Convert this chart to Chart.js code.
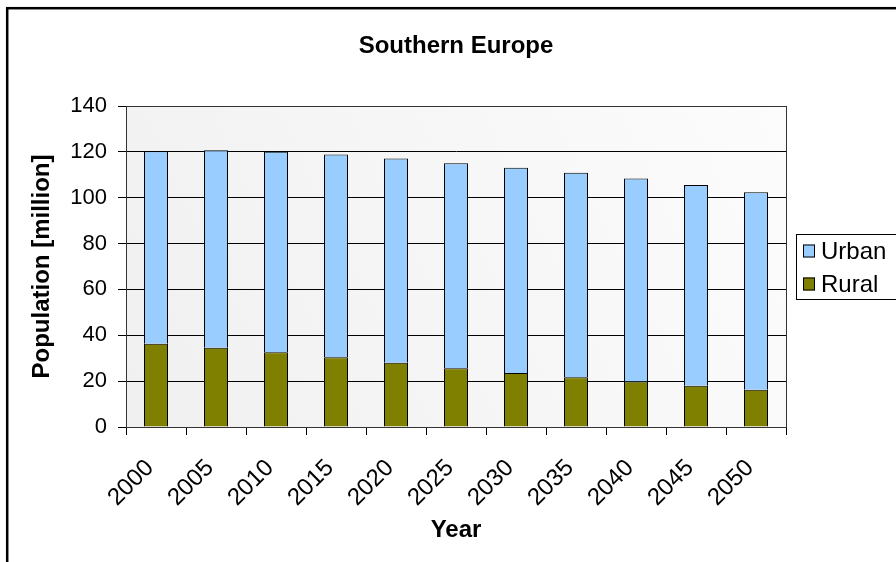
<!DOCTYPE html>
<html>
<head>
<meta charset="utf-8">
<script src="https://cdn.jsdelivr.net/npm/chart.js@4"></script>
<style>
  html, body { margin: 0; padding: 0; background: #fff; }
  #wrap { width: 896px; height: 562px; }
</style>
</head>
<body>
<div id="wrap"><canvas id="myChart" width="896" height="562"></canvas></div>
<script>
const years = ["2000", "2005", "2010", "2015", "2020", "2025", "2030", "2035", "2040", "2045", "2050"];
const rural = [36.3, 34.6, 32.6, 30.4, 28.0, 25.6, 23.6, 21.7, 19.8, 18.0, 16.3];
const urban = [84.0, 86.1, 87.5, 88.5, 89.1, 89.4, 89.5, 89.2, 88.6, 87.5, 86.1];
const yTicks = [0, 20, 40, 60, 80, 100, 120, 140];

const FONT = "'Liberation Sans', Arial, sans-serif";

// fond gris degrade + cadre de la zone de tracé
const plotArea = {
  id: "plotArea",
  beforeDraw(chart) {
    const { ctx, chartArea: a } = chart;
    ctx.save();
    const g = ctx.createLinearGradient(a.left, a.bottom, a.right, a.top);
    g.addColorStop(0, "#f0f0f0");
    g.addColorStop(1, "#fcfcfc");
    ctx.fillStyle = g;
    ctx.fillRect(a.left, a.top, a.right - a.left, a.bottom - a.top);
    ctx.restore();
  },
  afterDraw(chart) {
    const { ctx, chartArea: a } = chart;
    ctx.save();
    ctx.strokeStyle = "#333";
    ctx.lineWidth = 1;
    ctx.strokeRect(a.left + 0.5, a.top + 0.5, a.right - a.left, a.bottom - a.top);
    // cadre exterieur
    ctx.strokeStyle = "#000";
    ctx.lineWidth = 2.5;
    ctx.strokeRect(7.2, 8.2, 950, 650);
    ctx.restore();
  }
};

// legende a droite
const sideLegend = {
  id: "sideLegend",
  afterDraw(chart) {
    const { ctx } = chart;
    const sets = chart.data.datasets.slice().reverse();
    ctx.save();
    ctx.fillStyle = "#fff";
    ctx.fillRect(796, 234, 110, 65);
    ctx.strokeStyle = "#000";
    ctx.lineWidth = 1;
    ctx.strokeRect(796.5, 234.5, 110, 65);
    ctx.font = "24px " + FONT;
    ctx.textBaseline = "middle";
    sets.forEach((ds, i) => {
      const cy = 251 + i * 33;
      ctx.fillStyle = ds.backgroundColor;
      ctx.fillRect(803, cy - 6.5, 12, 13);
      ctx.strokeStyle = "#000";
      ctx.strokeRect(803.5, cy - 6, 11, 12);
      ctx.fillStyle = "#000";
      ctx.fillText(ds.label, 821, cy + 1);
    });
    ctx.restore();
  }
};

const ctx = document.getElementById("myChart").getContext("2d");
new Chart(ctx, {
  type: "bar",
  data: {
    labels: years,
    datasets: [
      { label: "Rural", data: rural, backgroundColor: "#808000", borderColor: "#000", borderWidth: 1 },
      { label: "Urban", data: urban, backgroundColor: "#99CCFF", borderColor: "#000", borderWidth: 1 }
    ]
  },
  options: {
    responsive: false,
    animation: false,
    layout: { padding: { left: 0, top: 0, right: 110, bottom: 0 } },
    datasets: { bar: { barPercentage: 0.4, categoryPercentage: 1.0 } },
    plugins: {
      legend: { display: false },
      tooltip: { enabled: false },
      title: {
        display: true,
        fullSize: false,
        text: "Southern Europe",
        color: "#000",
        font: { family: FONT, size: 24, weight: "bold", lineHeight: 1.2 },
        padding: { top: 32, bottom: 45.2 }
      }
    },
    scales: {
      x: {
        stacked: true,
        grid: { offset: true, drawOnChartArea: false, drawTicks: true, tickLength: 8, color: "#000" },
        border: { color: "#000" },
        ticks: {
          color: "#000", minRotation: 45, maxRotation: 45, padding: 19, labelOffset: -6,
          font: { family: FONT, size: 24 }
        },
        title: {
          display: true, text: "Year", color: "#000",
          font: { family: FONT, size: 24, weight: "bold", lineHeight: 1.2 },
          padding: { top: 0, bottom: 17.6 }
        },
        afterFit(scale) { scale.height = 135; }
      },
      y: {
        stacked: true,
        min: 0,
        max: 140,
        afterBuildTicks(scale) { scale.ticks = yTicks.map(v => ({ value: v })); },
        grid: { color: "#000", tickLength: 8 },
        border: { color: "#000" },
        ticks: { color: "#000", padding: 11, font: { family: FONT, size: 22 } },
        title: {
          display: true, text: "Population [million]", color: "#000",
          font: { family: FONT, size: 24, weight: "bold", lineHeight: 1.2 },
          padding: { top: 27.6, bottom: 0 }
        },
        afterFit(scale) { scale.width = 126; }
      }
    }
  },
  plugins: [plotArea, sideLegend]
});
</script>
</body>
</html>
